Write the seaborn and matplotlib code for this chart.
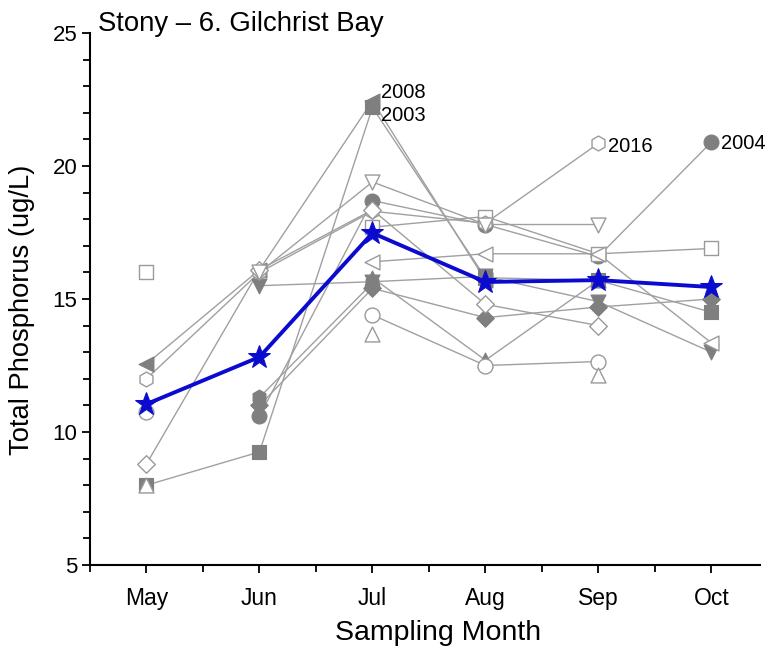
import numpy as np
import pandas as pd
import matplotlib
matplotlib.use("Agg")
import matplotlib.pyplot as plt
import seaborn as sns

months = ["May", "Jun", "Jul", "Aug", "Sep", "Oct"]
nan = np.nan

# yearly series (values per month, NaN = not sampled)
s2003 = [8.0, 9.25, 22.2, 15.8, 15.7, 14.5]            # filled square
s2004 = [nan, 10.6, 18.7, 17.8, 16.6, 20.9]            # filled circle
s2008 = [12.56, 16.1, 22.45, 15.7, nan, nan]           # filled left triangle
f_vtri = [nan, 15.5, 15.65, 15.85, 14.9, 13.0]         # filled down triangle
f_diam = [nan, 11.0, 15.4, 14.3, 14.7, 15.0]           # filled diamond
f_hex = [nan, 11.3, 15.6, nan, nan, nan]               # filled hexagon
f_utri = [nan, nan, 15.8, 12.7, 15.7, nan]             # filled up triangle
o_sq = [16.0, nan, 17.7, 18.1, 16.7, 16.9]             # open square
s2016 = [12.0, 16.0, 18.3, 17.85, 20.85, nan]          # open hexagon
o_circ = [10.75, nan, 14.4, 12.5, 12.65, nan]          # open circle
o_diam = [8.8, 16.1, 18.35, 14.8, 14.0, nan]           # open diamond
o_utri = [8.0, nan, 13.7, nan, 12.15, nan]             # open up triangle
o_vtri = [nan, 16.0, 19.4, 17.8, 17.8, nan]            # open down triangle
o_ltri = [nan, nan, 16.4, 16.7, 16.7, 13.35]           # open left triangle
mean_tp = [11.05, 12.82, 17.48, 15.64, 15.71, 15.45]   # mean (blue stars)

series = [
    ("2003", s2003, "s", True),
    ("2004", s2004, "o", True),
    ("2008", s2008, "<", True),
    ("fv", f_vtri, "v", True),
    ("fD", f_diam, "D", True),
    ("fh", f_hex, "h", True),
    ("f^", f_utri, "^", True),
    ("os", o_sq, "s", False),
    ("2016", s2016, "h", False),
    ("oo", o_circ, "o", False),
    ("oD", o_diam, "D", False),
    ("o^", o_utri, "^", False),
    ("ov", o_vtri, "v", False),
    ("o<", o_ltri, "<", False),
]

label_pos = {"2008": (2, (9, 8)), "2003": (2, (9, -8)),
             "2016": (4, (10, -3)), "2004": (5, (10, -1))}

rows = []
for name, vals, mk, filled in series:
    seg = 0
    prev = False
    for i, v in enumerate(vals):
        if np.isnan(v):
            prev = False
            continue
        if not prev:
            seg += 1
        prev = True
        rows.append(dict(series=name, m=i, v=v, unit=f"{name}_{seg}"))
df = pd.DataFrame(rows)

sns.set_style("ticks")
plt.rcParams["font.family"] = ["Liberation Sans", "DejaVu Sans"]
plt.rcParams["text.color"] = "black"
plt.rcParams["axes.labelcolor"] = "black"
plt.rcParams["xtick.color"] = "black"
plt.rcParams["ytick.color"] = "black"

fig = plt.figure(figsize=(7.71, 6.53), dpi=100)
ax = fig.add_axes([90 / 771, 1 - 565 / 653, 670 / 771, 532 / 653])

gray = "#7f7f7f"
edge = "#9a9a9a"
linec = "#a0a0a0"

sns.lineplot(data=df, x="m", y="v", units="unit", estimator=None,
             color=linec, lw=1.0, ax=ax, legend=False, zorder=2)

for name, vals, mk, filled in series:
    sub = df[df.series == name]
    ms = {"s": 100, "D": 80}.get(mk, 115)
    if filled:
        sns.scatterplot(x=sub.m, y=sub.v, marker=mk, s=ms, color=gray,
                        edgecolor=gray, linewidth=0.8, ax=ax, zorder=3)
    else:
        sns.scatterplot(x=sub.m, y=sub.v, marker=mk, s=ms, facecolor="white",
                        edgecolor=edge, linewidth=1.0, ax=ax, zorder=4)

mdf = pd.DataFrame(dict(m=range(len(months)), v=mean_tp))
sns.lineplot(data=mdf, x="m", y="v", color="#0b0bd0", lw=2.8, ax=ax,
             marker="*", markersize=17, markeredgecolor="#0b0bd0", zorder=6)

for name, vals, mk, filled in series:
    if name in label_pos:
        idx, off = label_pos[name]
        ax.annotate(name, xy=(idx, vals[idx]), xytext=off,
                    textcoords="offset pixels", fontsize=14.5, va="center",
                    ha="left", color="black")

ax.set_xlim(-0.5, 5.43)
ax.set_ylim(5, 25)
ax.set_xticks(range(len(months)))
ax.set_xticklabels(months)
ax.set_xticks(np.arange(-0.5, 5.0, 1.0), minor=True)
ax.set_yticks([5, 10, 15, 20, 25])
ax.set_yticks(np.arange(5, 26, 1), minor=True)
ax.tick_params(axis="both", which="major", direction="out", length=6, width=1.3,
               labelsize=16.5, color="black", labelcolor="black")
ax.tick_params(axis="x", which="major", pad=10)
ax.tick_params(axis="y", which="major", pad=3, labelsize=16)
ax.tick_params(axis="both", which="minor", direction="out", length=5, width=1.3, color="black")
ax.set_xlabel("Sampling Month", fontsize=20.5, color="black")
ax.set_ylabel("Total Phosphorus (ug/L)", fontsize=19.7, color="black")
ax.xaxis.set_label_coords(0.519, -0.128)
ax.yaxis.set_label_coords(-0.1015, 0.479)
ax.xaxis.label.set_va("center")
ax.yaxis.label.set_va("center")
for sp in ("top", "right"):
    ax.spines[sp].set_visible(False)
for sp in ("left", "bottom"):
    ax.spines[sp].set_linewidth(1.5)
    ax.spines[sp].set_color("black")

ax.text(0.012, 1.004, "Stony \u2013 6. Gilchrist Bay", transform=ax.transAxes,
        fontsize=19.8, va="baseline", ha="left", color="black")

fig.savefig("out.png", dpi=100)
